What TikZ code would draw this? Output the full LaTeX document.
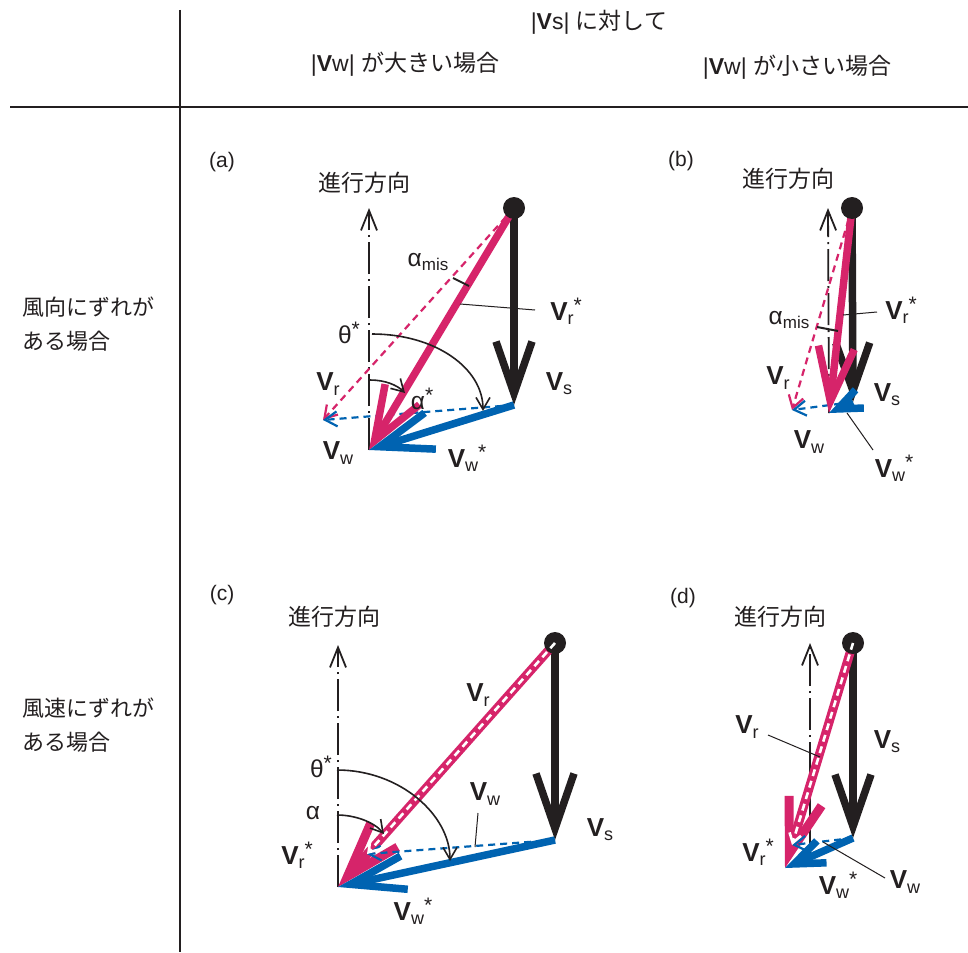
\documentclass[tikz,border=0pt]{standalone}
\usepackage{fontspec}
\setmainfont{Liberation Sans}
\newfontfamily\jp{Noto Sans CJK JP}
\usetikzlibrary{arrows.meta}
\definecolor{mag}{RGB}{214,36,106}
\definecolor{blu}{RGB}{0,99,177}
\definecolor{blk}{RGB}{35,31,32}
\newcommand{\Vlab}[2]{\textbf{V}\raisebox{-0.3ex}{\fontsize{18}{18}\selectfont #1}#2}
\newcommand{\mystar}{\raisebox{0.6ex}{\fontsize{21}{21}\selectfont *}}
\newcommand{\amis}{α\raisebox{-0.3ex}{\fontsize{17}{17}\selectfont mis}}
\tikzset{
  bigv/.style={line width=7.5pt, -{Straight Barb[sharp,length=50pt,width=38pt]}},
  vsv/.style={bigv, blk},
  vrsv/.style={bigv, mag},
  vwsv/.style={bigv, blu},
  dshv/.style={line width=2.2pt, dash pattern=on 7pt off 5pt, -{Straight Barb[length=12pt,width=15pt]}},
  wdsh/.style={line width=2.6pt, white, dash pattern=on 7pt off 5pt, -{Straight Barb[length=9pt,width=12pt]}},
  axisv/.style={line width=1.8pt, blk, dash pattern=on 32pt off 5pt on 2pt off 5pt, -{Straight Barb[length=20pt,width=16pt]}},
  arcv/.style={line width=1.6pt, blk, -{Straight Barb[length=12pt,width=14pt]}},
  lead/.style={line width=1pt, blk},
  lab/.style={font=\fontsize{26}{26}\selectfont, inner sep=0pt, blk},
  gr/.style={font=\fontsize{24.5}{24.5}\selectfont, inner sep=0pt, blk},
  jpl/.style={font=\jp\fontsize{22}{34}\selectfont, inner sep=0pt, blk},
  dirl/.style={font=\jp\fontsize{23}{23}\selectfont, inner sep=0pt, blk},
  hdr/.style={font=\fontsize{23}{23}\selectfont, inner sep=0pt, blk},
  pan/.style={font=\fontsize{21}{21}\selectfont, inner sep=0pt, blk},
  shipdot/.style={circle, fill=blk, minimum size=22pt, inner sep=0pt},
}
\begin{document}
\begin{tikzpicture}[x=1pt,y=-1pt]
\fill[white] (0,0) rectangle (968,952);
\useasboundingbox (0,0) rectangle (968,952);
% grid lines
\coordinate (vT) at (180,10); \coordinate (vB) at (180,952);
\coordinate (hL) at (10,107); \coordinate (hR) at (968,107);
\draw[line width=2pt, blk] (vT) -- (vB);
\draw[line width=2.4pt, blk] (hL) -- (hR);
% headers
\node[hdr] (h0) at (599,22) {|\textbf{V}s| {\jp に対して}};
\node[hdr] (h1) at (405,64) {|\textbf{V}w| {\jp が大きい場合}};
\node[hdr] (h2) at (797,67) {|\textbf{V}w| {\jp が小さい場合}};
\node[jpl, anchor=west, align=left] (r1) at (22,324) {風向にずれが\\ある場合};
\node[jpl, anchor=west, align=left] (r2) at (22,725) {風速にずれが\\ある場合};
% ================= (a)
\node[pan] (aL) at (222,162) {(a)};
\node[dirl, anchor=west] (aDir) at (318,183) {進行方向};
\coordinate (aS) at (514,208);
\coordinate (aVs) at (514,405);
\coordinate (aVrs) at (369,450);
\coordinate (aVr) at (323,420);
\coordinate (aAxT) at (369,208);
\draw[axisv] (aVrs) -- (aAxT);
\draw[dshv, mag] (aS) -- (aVr);
\draw[dshv, blu] (aVs) -- (aVr);
\draw[vsv, -{Straight Barb[sharp,length=52pt,width=36pt]}] (aS) -- (aVs);
\draw[vrsv, -{Straight Barb[sharp,length=54pt,width=40pt]}] (aS) -- (aVrs);
\draw[vwsv, -{Straight Barb[sharp,length=53pt,width=38pt]}] (aVs) -- (aVrs);
\node[shipdot] (aDot) at (aS) {};
\coordinate (aTh0) at (372,334); \coordinate (aTh1) at (483,411);
\draw[arcv] (aTh0) .. controls (435,334) and (483,368) .. (aTh1);
\coordinate (aAl0) at (370,380); \coordinate (aAl1) at (405,393);
\draw[arcv] (aAl0) .. controls (385,380) and (397,385) .. (aAl1);
\coordinate (aT0) at (453,278); \coordinate (aT1) at (469,286);
\draw[line width=2pt, blk] (aT0) -- (aT1);
\coordinate (aL0) at (460,304); \coordinate (aL1) at (535,310);
\draw[lead] (aL0) -- (aL1);
\node[gr] (aMis) at (428,262) {\amis};
\node[gr] (aTh) at (349,333) {θ\mystar};
\node[gr] (aAl) at (422,399) {α\mystar};
\node[lab] (aVrL) at (328,384) {\Vlab{r}{}};
\node[lab] (aVwL) at (338,453) {\Vlab{w}{}};
\node[lab] (aVwsL) at (467,458) {\Vlab{w}{\mystar}};
\node[lab] (aVsL) at (559,384) {\Vlab{s}{}};
\node[lab] (aVrsL) at (566,311) {\Vlab{r}{\mystar}};
% ================= (b)
\node[pan] (bL) at (681,161) {(b)};
\node[dirl, anchor=west] (bDir) at (742,179) {進行方向};
\coordinate (bS) at (852,208);
\coordinate (bVs) at (853,402);
\coordinate (bVrs) at (829,413);
\coordinate (bVr) at (792,410);
\coordinate (bAxT) at (828,208);
\draw[axisv] (bVrs) -- (bAxT);
\draw[dshv, mag] (bS) -- (bVr);
\draw[dshv, blu] (bVs) -- (bVr);
\draw[vsv, -{Straight Barb[sharp,length=48pt,width=34pt]}] (bS) -- (bVs);
\draw[vrsv, -{Straight Barb[sharp,length=54pt,width=36pt]}] (bS) -- (bVrs);
\draw[vwsv, -{Straight Barb[sharp,length=24pt,width=20pt]}] (bVs) -- (bVrs);
\node[shipdot] (bDot) at (bS) {};
\coordinate (bT0) at (817,327); \coordinate (bT1) at (838,331);
\draw[line width=2pt, blk] (bT0) -- (bT1);
\coordinate (bL0) at (843,315); \coordinate (bL1) at (877,312);
\draw[lead] (bL0) -- (bL1);
\coordinate (bW0) at (847,413); \coordinate (bW1) at (873,450);
\draw[lead] (bW0) -- (bW1);
\node[gr] (bMis) at (789,320) {\amis};
\node[lab] (bVrL) at (778,378) {\Vlab{r}{}};
\node[lab] (bVsL) at (887,395) {\Vlab{s}{}};
\node[lab] (bVwL) at (809,442) {\Vlab{w}{}};
\node[lab] (bVwsL) at (894,468) {\Vlab{w}{\mystar}};
\node[lab] (bVrsL) at (901,310) {\Vlab{r}{\mystar}};
% ================= (c)
\node[pan] (cL) at (222,595) {(c)};
\node[dirl, anchor=west] (cDir) at (288,617) {進行方向};
\coordinate (cS) at (555,643);
\coordinate (cVs) at (555,840);
\coordinate (cVrs) at (338,887);
\coordinate (cVr) at (367,854);
\coordinate (cAxT) at (338,645);
\draw[axisv] (cVrs) -- (cAxT);
\draw[vsv, -{Straight Barb[sharp,length=55pt,width=38pt]}] (cS) -- (cVs);
\draw[vrsv, line width=9pt, -{Straight Barb[sharp,length=55pt,width=36pt]}] (cS) -- (cVrs);
\draw[vwsv, -{Straight Barb[sharp,length=55pt,width=34pt]}] (cVs) -- (cVrs);
\draw[dshv, blu] (cVs) -- (cVr);
\node[shipdot] (cDot) at (cS) {};
\draw[wdsh] (cS) -- (cVr);
\coordinate (cTh0) at (337,770); \coordinate (cTh1) at (450,861);
\draw[arcv] (cTh0) .. controls (400,770) and (450,815) .. (cTh1);
\coordinate (cAl0) at (337,815); \coordinate (cAl1) at (384,834);
\draw[arcv] (cAl0) .. controls (355,815) and (374,822) .. (cAl1);
\coordinate (cW0) at (475,847); \coordinate (cW1) at (478,813);
\draw[lead] (cW0) -- (cW1);
\node[lab] (cVrL) at (478,695) {\Vlab{r}{}};
\node[gr] (cTh) at (321,767) {θ\mystar};
\node[gr] (cAl) at (313,813) {α};
\node[lab] (cVwL) at (485,794) {\Vlab{w}{}};
\node[lab] (cVrsL) at (297,855) {\Vlab{r}{\mystar}};
\node[lab] (cVwsL) at (413,911) {\Vlab{w}{\mystar}};
\node[lab] (cVsL) at (600,830) {\Vlab{s}{}};
% ================= (d)
\node[pan] (dL) at (683,598) {(d)};
\node[dirl, anchor=west] (dDir) at (734,617) {進行方向};
\coordinate (dS) at (853,643);
\coordinate (dVs) at (853,838);
\coordinate (dVrs) at (785,868);
\coordinate (dVr) at (792,845);
\coordinate (dAxB) at (810,862);
\coordinate (dAxT) at (810,643);
\draw[axisv] (dAxB) -- (dAxT);
\draw[vsv, -{Straight Barb[sharp,length=52pt,width=36pt]}] (dS) -- (dVs);
\draw[vrsv, line width=9pt, -{Straight Barb[sharp,length=55pt,width=34pt]}] (dS) -- (dVrs);
\draw[vwsv, -{Straight Barb[sharp,length=30pt,width=24pt]}] (dVs) -- (dVrs);
\draw[dshv, blu] (dVs) -- (dVr);
\node[shipdot] (dDot) at (dS) {};
\draw[wdsh] (dS) -- (dVr);
\coordinate (dR0) at (768,735); \coordinate (dR1) at (820,757);
\draw[lead] (dR0) -- (dR1);
\coordinate (dW0) at (823,842); \coordinate (dW1) at (885,878);
\draw[lead] (dW0) -- (dW1);
\node[lab] (dVrL) at (747,727) {\Vlab{r}{}};
\node[lab] (dVsL) at (887,742) {\Vlab{s}{}};
\node[lab] (dVrsL) at (758,852) {\Vlab{r}{\mystar}};
\node[lab] (dVwsL) at (838,885) {\Vlab{w}{\mystar}};
\node[lab] (dVwL) at (905,882) {\Vlab{w}{}};
\end{tikzpicture}
\end{document}
